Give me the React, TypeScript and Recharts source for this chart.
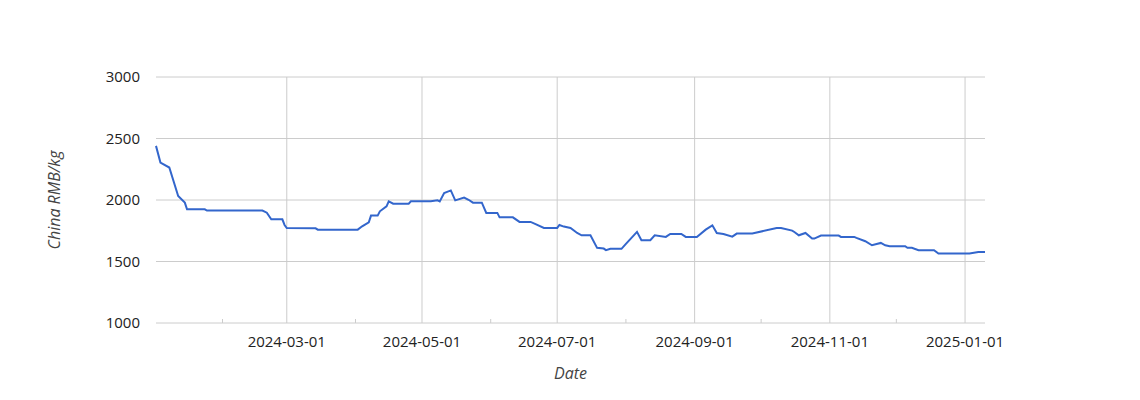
import { LineChart, Line, XAxis, YAxis, CartesianGrid, ReferenceLine } from 'recharts'

const dates = [
  '2024-01-02', '2024-01-04', '2024-01-08', '2024-01-12', '2024-01-15', '2024-01-16',
  '2024-01-24', '2024-01-25', '2024-02-19', '2024-02-21', '2024-02-23', '2024-02-28',
  '2024-02-29', '2024-03-01', '2024-03-14', '2024-03-15', '2024-04-02', '2024-04-04',
  '2024-04-07', '2024-04-08', '2024-04-11', '2024-04-12', '2024-04-15', '2024-04-16',
  '2024-04-18', '2024-04-25', '2024-04-26', '2024-05-05', '2024-05-08', '2024-05-09',
  '2024-05-11', '2024-05-14', '2024-05-16', '2024-05-20', '2024-05-22', '2024-05-24',
  '2024-05-28', '2024-05-30', '2024-06-04', '2024-06-05', '2024-06-11', '2024-06-14',
  '2024-06-19', '2024-06-21', '2024-06-25', '2024-07-01', '2024-07-02', '2024-07-04',
  '2024-07-07', '2024-07-09', '2024-07-10', '2024-07-12', '2024-07-16', '2024-07-19',
  '2024-07-22', '2024-07-23', '2024-07-25', '2024-07-30', '2024-08-01', '2024-08-06',
  '2024-08-08', '2024-08-12', '2024-08-14', '2024-08-19', '2024-08-21', '2024-08-26',
  '2024-08-28', '2024-09-02', '2024-09-06', '2024-09-09', '2024-09-11', '2024-09-14',
  '2024-09-18', '2024-09-20', '2024-09-27', '2024-10-08', '2024-10-10', '2024-10-15',
  '2024-10-16', '2024-10-18', '2024-10-21', '2024-10-24', '2024-10-25', '2024-10-28',
  '2024-11-05', '2024-11-06', '2024-11-12', '2024-11-13', '2024-11-17', '2024-11-20',
  '2024-11-24', '2024-11-26', '2024-11-28', '2024-12-05', '2024-12-06', '2024-12-08',
  '2024-12-11', '2024-12-18', '2024-12-20', '2025-01-03', '2025-01-07', '2025-01-10',
]

const prices = [
  2440, 2304, 2264, 2033, 1979, 1924,
  1924, 1914, 1914, 1897, 1843, 1843,
  1797, 1772, 1770, 1759, 1759, 1786,
  1819, 1873, 1873, 1908, 1948, 1989,
  1970, 1970, 1989, 1989, 1997, 1989,
  2057, 2078, 1997, 2019, 2002, 1978,
  1978, 1895, 1895, 1859, 1859, 1822,
  1822, 1806, 1773, 1773, 1797, 1784,
  1773, 1746, 1732, 1713, 1713, 1611,
  1605, 1592, 1603, 1603, 1643, 1741,
  1673, 1673, 1713, 1700, 1724, 1724,
  1700, 1700, 1759, 1794, 1732, 1724,
  1702, 1727, 1727, 1773, 1773, 1751,
  1740, 1713, 1732, 1686, 1686, 1711,
  1711, 1700, 1700, 1692, 1665, 1632,
  1651, 1632, 1624, 1624, 1611, 1611,
  1592, 1592, 1565, 1565, 1578, 1578,
]

const monthTicks = [
  '2024-02-01', '2024-03-01', '2024-04-01', '2024-05-01', '2024-06-01', '2024-07-01',
  '2024-08-01', '2024-09-01', '2024-10-01', '2024-11-01', '2024-12-01', '2025-01-01',
]
const labelledTicks = ['2024-03-01', '2024-05-01', '2024-07-01', '2024-09-01', '2024-11-01', '2025-01-01']

const yTicks = [1000, 1500, 2000, 2500, 3000]

const toTime = (d: string) => Date.parse(d + 'T00:00:00Z')
const data = dates.map((d, i) => ({ t: toTime(d), price: prices[i] }))
const allTicks = monthTicks.map(toTime)
const majorTicks = labelledTicks.map(toTime)

const fmt = (t: number) => new Date(t).toISOString().slice(0, 10)

const font = '"Open Sans", "Noto Sans", sans-serif'

function DateTick(props: any) {
  const { x, y, payload } = props
  const v = payload.value as number
  if (majorTicks.includes(v)) {
    return (
      <text x={x} y={y + 24} textAnchor="middle" fill="#222" fontSize={15} fontFamily={font}>
        {fmt(v)}
      </text>
    )
  }
  return <line x1={x} x2={x} y1={y - 4} y2={y} stroke="#ccc" strokeWidth={1} />
}

function YTitle(props: any) {
  const vb = props.viewBox || { y: 77, height: 246 }
  const cy = vb.y + vb.height / 2
  return (
    <text
      x={54}
      y={cy}
      transform={`rotate(-90 54 ${cy})`}
      textAnchor="middle"
      dominantBaseline="central"
      fill="#444"
      fontSize={16}
      fontStyle="italic"
      fontFamily={font}
    >
      China RMB/kg
    </text>
  )
}

function XTitle(props: any) {
  const vb = props.viewBox || { x: 156, width: 829 }
  const cx = vb.x + vb.width / 2
  return (
    <text x={cx} y={379} textAnchor="middle" fill="#444" fontSize={16} fontStyle="italic" fontFamily={font}>
      Date
    </text>
  )
}

export default function App() {
  return (
    <div style={{ position: 'absolute', left: 0, top: 0, background: '#fff' }}>
      <LineChart width={1140} height={400} data={data} margin={{ top: 77, right: 155, left: 0, bottom: 0 }}>
        <CartesianGrid stroke="#ccc" vertical={false} />
        {majorTicks.map((t) => (
          <ReferenceLine key={t} x={t} stroke="#ccc" strokeWidth={1} />
        ))}
        <XAxis
          dataKey="t"
          type="number"
          scale="time"
          domain={['dataMin', 'dataMax']}
          ticks={allTicks}
          interval={0}
          tick={<DateTick />}
          tickSize={0}
          tickMargin={0}
          tickLine={false}
          axisLine={false}
          height={77}
          label={<XTitle />}
        />
        <YAxis
          domain={[1000, 3000]}
          ticks={yTicks}
          width={156}
          tickSize={0}
          tickMargin={16}
          tickLine={false}
          axisLine={false}
          tick={{ fill: '#222', fontSize: 15, fontFamily: font }}
          label={<YTitle />}
        />
        <Line
          type="linear"
          dataKey="price"
          stroke="#3366cc"
          strokeWidth={2}
          dot={false}
          isAnimationActive={false}
        />
      </LineChart>
    </div>
  )
}
